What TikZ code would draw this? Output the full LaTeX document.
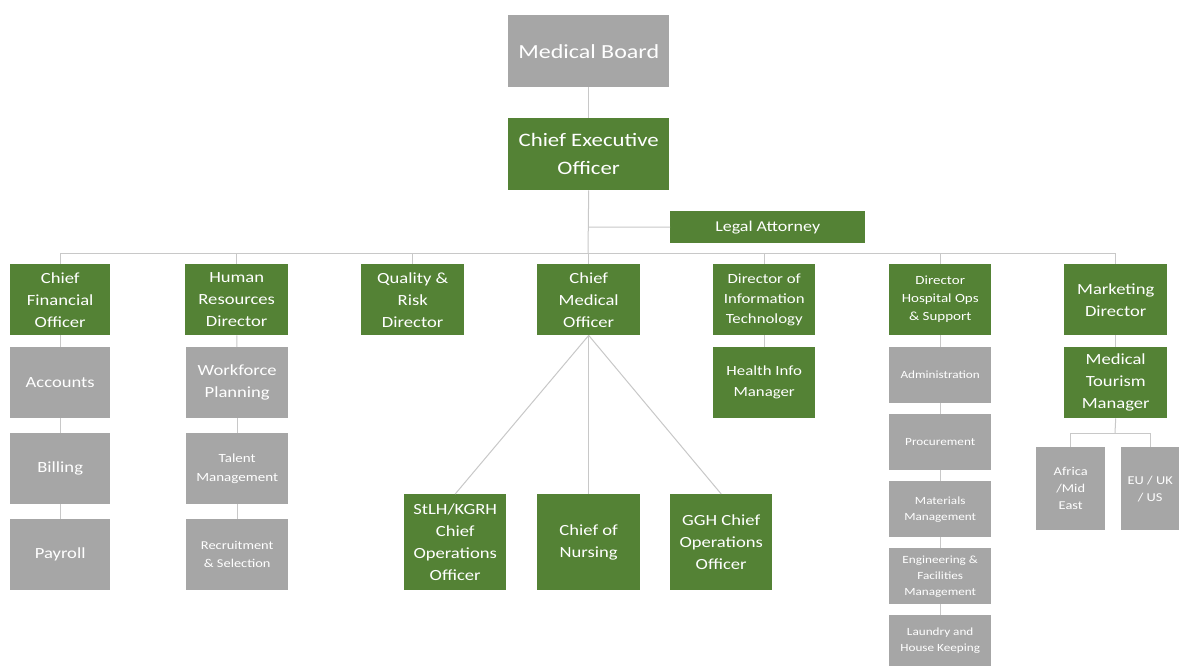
\documentclass[tikz,border=0pt]{standalone}
\usepackage{fontspec}
\setmainfont{Carlito}[FakeStretch=1.2]
\definecolor{gfill}{RGB}{84,130,53}
\definecolor{afill}{RGB}{166,166,166}
\definecolor{lnc}{RGB}{200,200,200}
\tikzset{
  bx/.style={anchor=north west, inner sep=1pt, align=center, text=white},
  gbox/.style={bx, fill=gfill},
  abox/.style={bx, fill=afill},
  L/.style={font=\fontsize{15.5}{22}\selectfont},
  M/.style={font=\fontsize{12.5}{19}\selectfont},
  S/.style={font=\fontsize{11}{16}\selectfont},
  conn/.style={draw=lnc, line width=1pt},
}
\begin{document}
\begin{tikzpicture}[x=1pt,y=-1pt]
\fill[white] (0,0) rectangle (1179,666);
\useasboundingbox (0,0) rectangle (1179,666);
% top
\node[abox, minimum width=161pt, minimum height=72pt, font=\fontsize{20}{26}\selectfont] (mb) at (508,15) {Medical Board};
\node[gbox, minimum width=161pt, minimum height=72pt, font=\fontsize{19}{28}\selectfont] (ceo) at (508,118) {Chief Executive\\Officer};
\node[gbox, minimum width=195pt, minimum height=32pt, font=\fontsize{15}{18}\selectfont] (legal) at (670,211) {Legal Attorney};
% level 2
\node[gbox, L, minimum width=100pt, minimum height=71pt] (cfo) at (10,264) {Chief\\Financial\\Officer};
\node[gbox, L, minimum width=103pt, minimum height=71pt] (hr) at (185,264) {Human\\Resources\\Director};
\node[gbox, L, minimum width=103pt, minimum height=71pt] (qr) at (361,264) {Quality \&\\Risk\\Director};
\node[gbox, L, minimum width=103pt, minimum height=71pt] (cmo) at (537,264) {Chief\\Medical\\Officer};
\node[gbox, font=\fontsize{14}{20}\selectfont, minimum width=102pt, minimum height=71pt] (dit) at (713,264) {Director of\\Information\\Technology};
\node[gbox, font=\fontsize{12.5}{18}\selectfont, minimum width=102pt, minimum height=71pt] (dho) at (889,264) {Director\\Hospital Ops\\\& Support};
\node[gbox, L, minimum width=103pt, minimum height=71pt] (md) at (1064,264) {Marketing\\Director};
% CFO
\node[abox, L, minimum width=100pt, minimum height=71pt] (acc) at (10,347) {Accounts};
\node[abox, L, minimum width=100pt, minimum height=71pt] (bill) at (10,433) {Billing};
\node[abox, L, minimum width=100pt, minimum height=71pt] (pay) at (10,519) {Payroll};
% HR
\node[abox, L, minimum width=102pt, minimum height=71pt] (wp) at (186,347) {Workforce\\Planning};
\node[abox, M, minimum width=102pt, minimum height=71pt] (tm) at (186,433) {Talent\\Management};
\node[abox, font=\fontsize{12}{18}\selectfont, minimum width=102pt, minimum height=71pt] (rs) at (186,519) {Recruitment\\\& Selection};
% DIT
\node[gbox, font=\fontsize{14}{21}\selectfont, minimum width=102pt, minimum height=71pt] (him) at (713,347) {Health Info\\Manager};
% DHO
\node[abox, S, minimum width=102pt, minimum height=56pt] (adm) at (889,347) {Administration};
\node[abox, S, minimum width=102pt, minimum height=56pt] (proc) at (889,414) {Procurement};
\node[abox, S, minimum width=102pt, minimum height=56pt] (mat) at (889,481) {Materials\\Management};
\node[abox, S, minimum width=102pt, minimum height=56pt] (eng) at (889,548) {Engineering \&\\Facilities\\Management};
\node[abox, S, minimum width=102pt, minimum height=51pt] (lau) at (889,615) {Laundry and\\House Keeping};
% MD
\node[gbox, L, minimum width=103pt, minimum height=71pt] (mtm) at (1064,347) {Medical\\Tourism\\Manager};
\node[abox, font=\fontsize{12}{17}\selectfont, minimum width=69pt, minimum height=83pt] (afr) at (1036,447) {Africa\\/Mid\\East};
\node[abox, font=\fontsize{12}{17}\selectfont, minimum width=58pt, minimum height=83pt] (eu) at (1121,447) {EU / UK\\/ US};
% CMO
\node[gbox, L, minimum width=102pt, minimum height=96pt] (stlh) at (404,494) {StLH/KGRH\\Chief\\Operations\\Officer};
\node[gbox, L, minimum width=103pt, minimum height=96pt] (con) at (537,494) {Chief of\\Nursing};
\node[gbox, L, minimum width=102pt, minimum height=96pt] (ggh) at (670,494) {GGH Chief\\Operations\\Officer};
% connectors
\coordinate (bus) at (588,253);
\coordinate (lg) at (588,227);
\coordinate (mt) at (1115,433);
\draw[conn] (mb.south) -- (ceo.north);
\draw[conn] (ceo.south) -- (bus);
\draw[conn] (lg) -- (legal.west);
\draw[conn] (cfo.north |- bus) -- (md.north |- bus);
\foreach \n in {cfo,hr,qr,cmo,dit,dho,md} \draw[conn] (\n.north) -- (\n.north |- bus);
\draw[conn] (cfo) -- (acc); \draw[conn] (acc) -- (bill); \draw[conn] (bill) -- (pay);
\draw[conn] (hr) -- (wp); \draw[conn] (wp) -- (tm); \draw[conn] (tm) -- (rs);
\draw[conn] (dit) -- (him);
\draw[conn] (dho) -- (adm); \draw[conn] (adm) -- (proc); \draw[conn] (proc) -- (mat); \draw[conn] (mat) -- (eng); \draw[conn] (eng) -- (lau);
\draw[conn] (md) -- (mtm);
\draw[conn] (mtm.south) -- (mt);
\draw[conn] (afr.north) -- (afr.north |- mt) -- (eu.north |- mt) -- (eu.north);
\draw[conn] (cmo.south) -- (stlh.north);
\draw[conn] (cmo.south) -- (con.north);
\draw[conn] (cmo.south) -- (ggh.north);
\end{tikzpicture}
\end{document}
